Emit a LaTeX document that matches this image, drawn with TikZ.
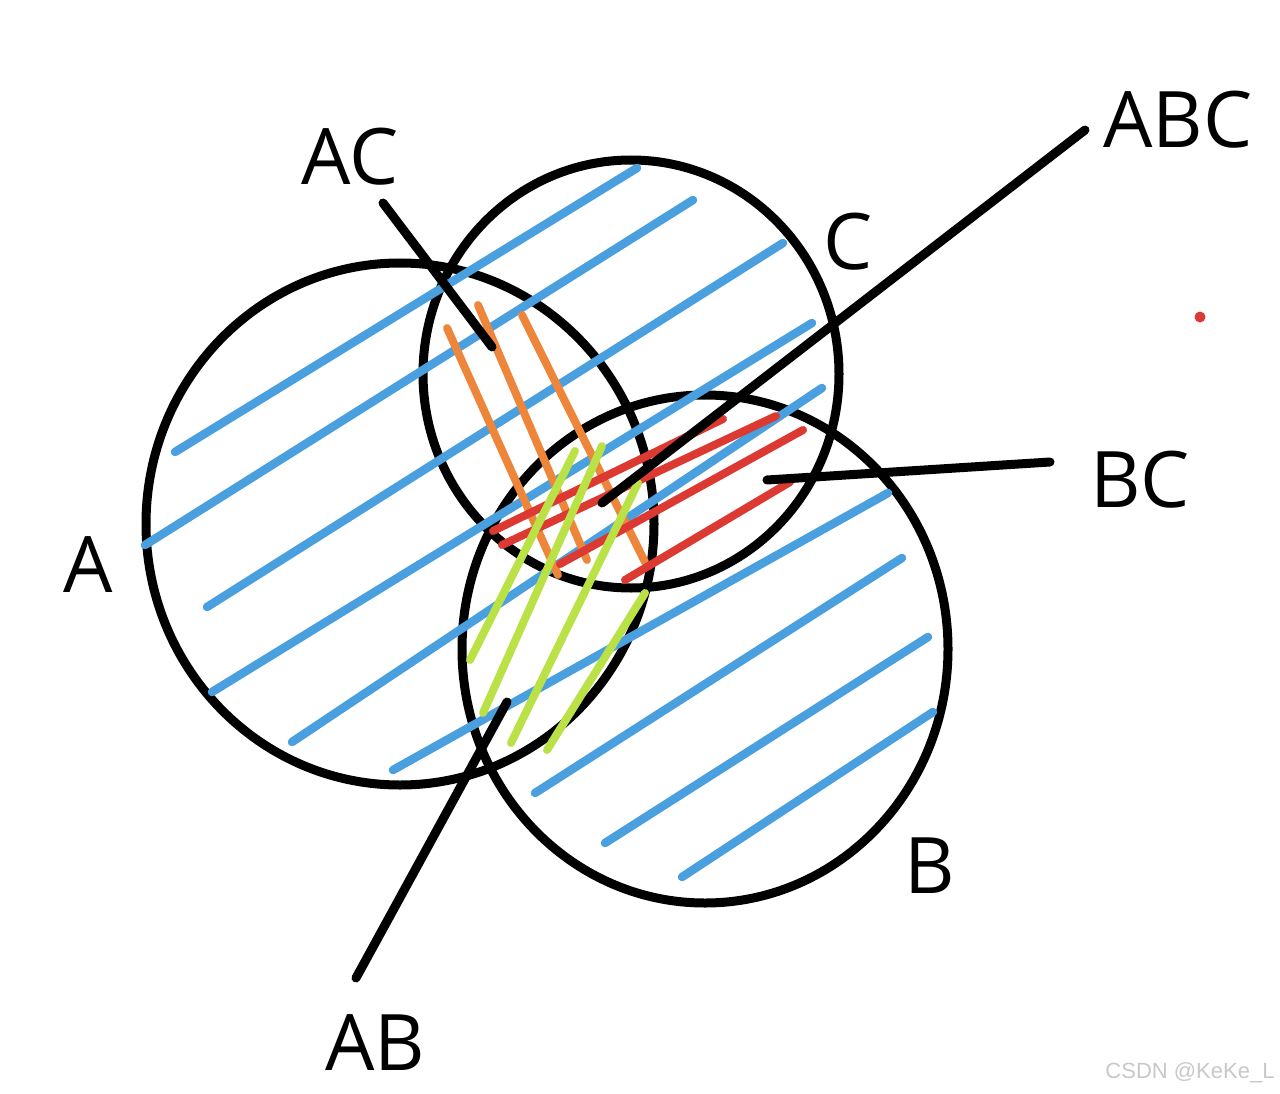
\documentclass[tikz,border=0pt]{standalone}
\usepackage{fontspec}
\setmainfont{Open Sans}
\setsansfont{Liberation Sans}
\usetikzlibrary{shapes.geometric}
\definecolor{hatchblue}{RGB}{74,160,223}
\definecolor{hatchorange}{RGB}{237,134,58}
\definecolor{hatchgreen}{RGB}{186,226,70}
\definecolor{hatchred}{RGB}{220,57,50}
\definecolor{markgray}{RGB}{200,200,200}

\begin{document}
\begin{tikzpicture}[
  x=1pt, y=-1pt,
  ring/.style={ellipse, draw=black, line width=9pt, inner sep=0pt},
  lbl/.style={font=\fontsize{78pt}{80pt}\selectfont, inner sep=0pt},
  bhatch/.style={draw=hatchblue, line width=8.5pt, line cap=round},
  ohatch/.style={draw=hatchorange, line width=8pt, line cap=round},
  rhatch/.style={draw=hatchred, line width=8pt, line cap=round},
  ghatch/.style={draw=hatchgreen, line width=8pt, line cap=round},
  lead/.style={draw=black, line width=9pt, line cap=round}
]
  \useasboundingbox (0,0) rectangle (1280,1094);
  % the three sets
  \node[ring, minimum width=508pt, minimum height=522pt] (setA) at (400,524) {};
  \node[ring, minimum width=416pt, minimum height=428pt] (setC) at (631,374) {};
  \node[ring, minimum width=486pt, minimum height=508pt] (setB) at (705,649) {};
  % blue hatching
  \draw[bhatch] (637,168) -- (175,452);
  \draw[bhatch] (693,200) -- (145,545);
  \draw[bhatch] (783,243) -- (207,607);
  \draw[bhatch] (812,323) -- (212,692);
  \draw[bhatch] (822,388) -- (292,742);
  \draw[bhatch] (888,493) -- (393,770);
  \draw[bhatch] (902,558) -- (535,793);
  \draw[bhatch] (928,637) -- (605,843);
  \draw[bhatch] (933,712) -- (682,877);
  % A and C
  \draw[ohatch] (447,328) -- (558,575);
  \draw[ohatch] (478,305) -- (587,560);
  \draw[ohatch] (522,315) -- (645,562);
  % B and C
  \draw[rhatch] (493,531) -- (723,419);
  \draw[rhatch] (502,545) -- (776,416);
  \draw[rhatch] (560,564) -- (803,430);
  \draw[rhatch] (625,580) -- (790,482);
  % A and B
  \draw[ghatch] (575,451) -- (470,660);
  \draw[ghatch] (602,446) -- (483,713);
  \draw[ghatch] (638,483) -- (511,743);
  \draw[ghatch] (645,593) -- (547,750);
  % labels
  \node[lbl] (labA) at (88,565) {A};
  \node[lbl] (labB) at (930,866) {B};
  \node[lbl] (labC) at (848,242) {C};
  \node[lbl] (labAC) at (350,157) {AC};
  \node[lbl] (labABC) at (1178,120) {ABC};
  \node[lbl] (labBC) at (1140,480) {BC};
  \node[lbl] (labAB) at (375,1043) {AB};
  % leader lines
  \coordinate (acOut) at (383,203);
  \coordinate (acIn) at (492,347);
  \coordinate (abcOut) at (1085,130);
  \coordinate (abcIn) at (602,503);
  \coordinate (bcOut) at (1050,462);
  \coordinate (bcIn) at (767,480);
  \coordinate (abOut) at (356,978);
  \coordinate (abIn) at (507,702);
  \draw[lead] (acOut) -- (acIn);
  \draw[lead] (abcOut) -- (abcIn);
  \draw[lead] (bcOut) -- (bcIn);
  \draw[lead] (abOut) -- (abIn);
  % stray dot
  \fill[hatchred] (1200,317) circle (5.5pt);
  \node[font=\sffamily\fontsize{22pt}{24pt}\selectfont, text=markgray, inner sep=0pt] (mark) at (1190,1073) {CSDN @KeKe\_L};
\end{tikzpicture}
\end{document}
